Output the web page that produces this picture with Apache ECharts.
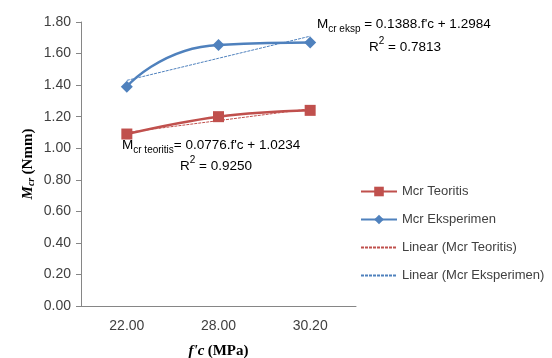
<!DOCTYPE html>
<html>
<head>
<meta charset="utf-8">
<script src="https://cdn.jsdelivr.net/npm/echarts@6/dist/echarts.min.js"></script>
<style>
  html, body { margin: 0; padding: 0; background: #fff; }
  #chart { width: 552px; height: 358px; }
</style>
</head>
<body>
<div id="chart"></div>
<script>
// data
const kuatTekan = ['22.00', '28.00', '30.20'];
const mcrTeoritis = [1.09, 1.20, 1.24];
const mcrEksperimen = [1.39, 1.655, 1.67];
const trendTeoritis = [1.10, 1.175, 1.25];
const trendEksperimen = [1.43, 1.57, 1.71];

const merah = '#C0504D';
const biru = '#4F81BD';
const abu = '#404040';
const fontUtama = 'Liberation Sans';

function renderGrafikMcr() {
    const chartDom = document.getElementById('chart');
    const myChart = echarts.init(chartDom);

    const eqStyle = {
        m: { fontSize: 13.5, fontFamily: fontUtama, color: abu, lineHeight: 18, verticalAlign: 'bottom' },
        sub: { fontSize: 10, fontFamily: fontUtama, color: abu, lineHeight: 18, verticalAlign: 'bottom', padding: [0, 0, -3, 0] },
        sup: { fontSize: 10, fontFamily: fontUtama, color: abu, lineHeight: 18, verticalAlign: 'top' }
    };

    const option = {
        animation: false,
        grid: { left: 81, right: 196, top: 22, bottom: 52, outerBoundsMode: 'none', containLabel: false },
        legend: {
            orient: 'vertical',
            left: 355,
            top: 180,
            itemGap: 15,
            itemWidth: 36,
            itemHeight: 12,
            textStyle: { fontFamily: fontUtama, fontSize: 13, color: abu },
            data: [
                { name: 'Mcr Teoritis' },
                { name: 'Mcr Eksperimen' },
                { name: 'Linear (Mcr Teoritis)', itemStyle: { opacity: 0 } },
                { name: 'Linear (Mcr Eksperimen)', itemStyle: { opacity: 0 } }
            ]
        },
        xAxis: {
            type: 'category',
            data: kuatTekan,
            axisLine: { lineStyle: { color: '#868686' } },
            axisTick: { show: false },
            axisLabel: { fontFamily: fontUtama, fontSize: 14, color: abu, margin: 13 },
            name: '{i|f\'c} {b|(MPa)}',
            nameLocation: 'middle',
            nameGap: 38,
            nameTextStyle: {
                rich: {
                    i: { fontFamily: 'Liberation Serif', fontSize: 15, fontWeight: 'bold', fontStyle: 'italic', color: '#000' },
                    b: { fontFamily: 'Liberation Serif', fontSize: 15, fontWeight: 'bold', color: '#000' }
                }
            }
        },
        yAxis: {
            type: 'value',
            min: 0,
            max: 1.8,
            interval: 0.2,
            splitLine: { show: false },
            axisLine: { show: true, lineStyle: { color: '#868686' } },
            axisTick: { show: true, length: 5, lineStyle: { color: '#868686' } },
            axisLabel: {
                fontFamily: fontUtama, fontSize: 14, color: abu, margin: 10,
                formatter: v => v.toFixed(2)
            },
            name: '{i|M}{s|cr} {b|(Nmm)}',
            nameLocation: 'middle',
            nameGap: 45,
            nameRotate: 90,
            nameTextStyle: {
                rich: {
                    i: { fontFamily: 'Liberation Serif', fontSize: 15, fontWeight: 'bold', fontStyle: 'italic', color: '#000', lineHeight: 18, verticalAlign: 'bottom' },
                    s: { fontFamily: 'Liberation Serif', fontSize: 10, fontWeight: 'bold', fontStyle: 'italic', color: '#000', lineHeight: 18, verticalAlign: 'bottom' },
                    b: { fontFamily: 'Liberation Serif', fontSize: 15, fontWeight: 'bold', color: '#000', lineHeight: 18, verticalAlign: 'bottom' }
                }
            }
        },
        series: [
            {
                name: 'Mcr Teoritis',
                type: 'line',
                data: mcrTeoritis,
                smooth: 0.4,
                symbol: 'rect',
                symbolSize: 11,
                itemStyle: { color: merah },
                lineStyle: { color: merah, width: 2.5 },
                z: 3
            },
            {
                name: 'Mcr Eksperimen',
                type: 'line',
                data: mcrEksperimen,
                smooth: 0.6,
                symbol: 'diamond',
                symbolSize: 12,
                itemStyle: { color: biru },
                lineStyle: { color: biru, width: 2.5 },
                z: 3
            },
            {
                name: 'Linear (Mcr Teoritis)',
                type: 'line',
                data: trendTeoritis,
                symbol: 'none',
                itemStyle: { color: merah },
                lineStyle: { color: merah, width: 1, type: [3, 1] },
                z: 4
            },
            {
                name: 'Linear (Mcr Eksperimen)',
                type: 'line',
                data: trendEksperimen,
                symbol: 'none',
                itemStyle: { color: biru },
                lineStyle: { color: biru, width: 1, type: [3, 1] },
                z: 4
            }
        ],
        graphic: [
            {
                type: 'text',
                left: 317,
                top: 17,
                style: {
                    text: '{m|M}{sub|cr eksp}{m| = 0.1388.f\'c + 1.2984}',
                    rich: eqStyle
                }
            },
            {
                type: 'text',
                left: 369,
                top: 36,
                style: {
                    text: '{m|R}{sup|2}{m| = 0.7813}',
                    rich: eqStyle
                }
            },
            {
                type: 'text',
                left: 122,
                top: 138,
                style: {
                    text: '{m|M}{sub|cr teoritis}{m|= 0.0776.f\'c + 1.0234}',
                    rich: eqStyle
                }
            },
            {
                type: 'text',
                left: 180,
                top: 155,
                style: {
                    text: '{m|R}{sup|2}{m| = 0.9250}',
                    rich: eqStyle
                }
            }
        ]
    };

    myChart.setOption(option);
}

renderGrafikMcr();
</script>
</body>
</html>
